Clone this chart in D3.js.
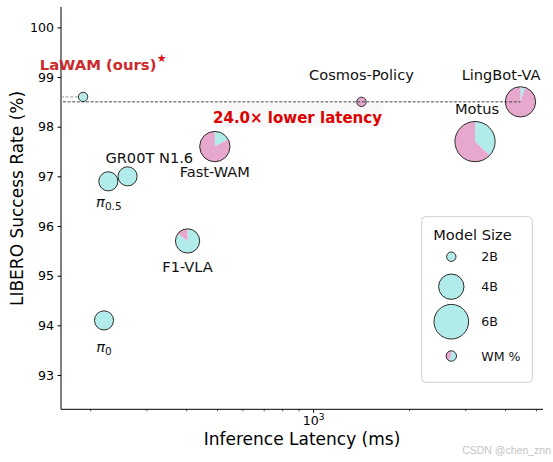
<!DOCTYPE html>
<html><head><meta charset="utf-8">
<script src="https://cdn.jsdelivr.net/npm/d3@7"></script>
<style>body{margin:0;background:#fff}svg{display:block}</style>
</head><body>
<svg id="c" width="553" height="462"></svg>
<script>
// ---- data ----
const models    = ["LaWAM (ours)", "Cosmos-Policy", "LingBot-VA", "Motus", "Fast-WAM", "GR00T N1.6", "π0.5", "F1-VLA", "π0"];
const latencyMs = [190, 1418, 4470, 3220, 492, 262, 228, 404, 221];
const successRate = [98.6, 98.5, 98.5, 97.7, 97.6, 97.0, 96.9, 95.7, 94.1];
const modelSizeB  = [2, 2, 5, 7.5, 5, 3, 3, 3.8, 3];
const wmFraction  = [0.05, 1.0, 0.95, 0.63, 0.83, 0, 0, 0.15, 0];
const yTicks = [93, 94, 95, 96, 97, 98, 99, 100];
const xMinorTicks = [200, 300, 400, 500, 600, 700, 800, 900, 2000, 3000, 4000, 5000];
const xMajorTicks = [1000];
const legendSizes = [2, 4, 6];
const legendSizeLabels = ["2B", "4B", "6B"];
const legendWM = 0.42;
const speedupText = "24.0× lower latency";

// ---- layout ----
const L = 61, R = 543, T = 7, B = 409.3;
const cyan = "#b2ecea", pink = "#e6a9cd";
const svg = d3.select("#c");
const x = d3.scaleLog().domain([162, 5260]).range([L, R]);
const y = d3.scaleLinear().domain([92.31, 100.41]).range([B, T]);
const area = d3.scaleLinear().domain([2, 6]).range([22, 300]);
const rad = s => Math.sqrt(area(s));

// axes
const yAxis = d3.axisLeft(y).tickValues(yTicks).tickSize(3.5).tickPadding(3.5).tickFormat(d3.format("d"));
const gy = svg.append("g").attr("transform", `translate(${L},0)`).call(yAxis);
gy.select(".domain").attr("d", `M0,${T}V${B}`).attr("stroke", "#000").attr("stroke-width", 1);
gy.selectAll("text").attr("font-family", "DejaVu Sans").attr("font-size", 12.6).attr("fill", "#000");

const xMinor = d3.axisBottom(x).tickValues(xMinorTicks).tickSize(2).tickFormat("");
const gxm = svg.append("g").attr("transform", `translate(0,${B})`).call(xMinor);
gxm.select(".domain").attr("d", `M${L},0H${R}`).attr("stroke", "#000");
gxm.selectAll("line").attr("stroke-width", 0.7);
const xMajor = d3.axisBottom(x).tickValues(xMajorTicks).tickSize(3.5).tickFormat("");
const gx = svg.append("g").attr("transform", `translate(0,${B})`).call(xMajor);
gx.select(".domain").remove();
gx.selectAll(".tick").append("text")
  .attr("y", 16).attr("fill", "#000").attr("font-family", "DejaVu Sans").attr("font-size", 12.6)
  .attr("text-anchor", "middle")
  .call(t => { t.append("tspan").text("10"); t.append("tspan").attr("dy", -5).attr("font-size", 9).text("3"); });

svg.append("text").attr("x", (L + R) / 2).attr("y", 445).attr("text-anchor", "middle")
  .attr("font-family", "DejaVu Sans").attr("font-size", 17).text("Inference Latency (ms)");
svg.append("text").attr("transform", "translate(23,198.5) rotate(-90)").attr("text-anchor", "middle")
  .attr("font-family", "DejaVu Sans").attr("font-size", 17).text("LIBERO Success Rate (%)");

// short gray dashed line to LaWAM
svg.append("line").attr("x1", L).attr("x2", x(latencyMs[0])).attr("y1", y(successRate[0])).attr("y2", y(successRate[0]))
  .attr("stroke", "#9a9a9a").attr("stroke-width", 1).attr("stroke-dasharray", "3,1.6");

// speedup label box
svg.append("rect").attr("x", 211.7).attr("y", 103).attr("width", 171.6).attr("height", 24)
  .attr("fill", "#f7f7f7").attr("opacity", 0.85);
svg.append("text").attr("x", 297.5).attr("y", 122.5).attr("text-anchor", "middle")
  .attr("font-family", "'Comic Sans MS', 'DejaVu Sans'").attr("font-weight", "bold").attr("font-size", 16.5)
  .attr("textLength", 169).attr("lengthAdjust", "spacingAndGlyphs")
  .attr("fill", "#dd0000").text(speedupText);

// bubbles as pies
const pie = d3.pie().sort(null).value(d => d);
function drawPie(g, cx, cy, r, wm) {
  const gg = g.append("g").attr("transform", `translate(${cx},${cy})`);
  const arcs = pie([1 - wm, wm]);
  const arc = d3.arc().innerRadius(0).outerRadius(r);
  gg.selectAll("path").data(arcs).join("path")
    .attr("d", arc).attr("fill", (d, i) => i === 0 ? cyan : pink).attr("stroke", "none");
  gg.append("circle").attr("r", r).attr("fill", "none").attr("stroke", "#2b2b2b").attr("stroke-width", 1);
}
const gb = svg.append("g");
models.forEach((m, i) => drawPie(gb, x(latencyMs[i]), y(successRate[i]), rad(modelSizeB[i]), wmFraction[i]));

// long dashed reference line (on top)
svg.append("line").attr("x1", L + 2).attr("x2", x(latencyMs[2])).attr("y1", y(98.5)).attr("y2", y(98.5))
  .attr("stroke", "#333").attr("stroke-width", 0.9).attr("stroke-dasharray", "3,1.6");

// labels
const labelOff = {
  "Cosmos-Policy": [0, -21.7], "LingBot-VA": [-19.4, -21.7], "Motus": [2, -27.7],
  "Fast-WAM": [0, 30.4], "GR00T N1.6": [21.7, -13.3], "π0.5": [0.5, 25.7],
  "F1-VLA": [0, 30.7], "π0": [0, 31.7]
};
models.forEach((m, i) => {
  if (i === 0) return;
  const [dx, dy] = labelOff[m];
  const t = svg.append("text").attr("x", x(latencyMs[i]) + dx).attr("y", y(successRate[i]) + dy)
    .attr("text-anchor", "middle").attr("font-family", "DejaVu Sans").attr("font-size", 14.6).attr("fill", "#111");
  if (m.startsWith("π")) {
    t.append("tspan").attr("font-style", "italic").text("π");
    t.append("tspan").attr("font-size", 10.5).attr("dy", 3).text(m.slice(1));
  } else t.text(m);
});
// LaWAM label
svg.append("text").attr("x", x(latencyMs[0]) + 15).attr("y", 70).attr("text-anchor", "middle")
  .attr("font-family", "DejaVu Sans").attr("font-weight", "bold").attr("font-size", 14.8)
  .attr("fill", "#cc2a2a").text(models[0]);
svg.append("text").attr("x", 161.7).attr("y", 62).attr("text-anchor", "middle")
  .attr("font-family", "DejaVu Sans").attr("font-size", 11).attr("fill", "#e01010").text("★");

// legend
const lg = svg.append("g");
lg.append("rect").attr("x", 421.7).attr("y", 216.7).attr("width", 110.6).attr("height", 165.6).attr("rx", 4)
  .attr("fill", "#fff").attr("fill-opacity", 0.8).attr("stroke", "#d0d0d0").attr("stroke-width", 1);
lg.append("text").attr("x", 472.5).attr("y", 239.5).attr("text-anchor", "middle")
  .attr("font-family", "DejaVu Sans").attr("font-size", 14.6).attr("fill", "#111").text("Model Size");
const legY = [256.7, 286.7, 321.7];
legendSizes.forEach((s, i) => {
  drawPie(lg, 451.3, legY[i], rad(s), 0);
  lg.append("text").attr("x", 481.3).attr("y", legY[i] + 4.5).attr("font-family", "DejaVu Sans")
    .attr("font-size", 12.6).attr("fill", "#111").text(legendSizeLabels[i]);
});
drawPie(lg, 451.3, 356, 5.2, legendWM);
lg.append("text").attr("x", 481.3).attr("y", 360.5).attr("font-family", "DejaVu Sans")
  .attr("font-size", 12.6).attr("fill", "#111").text("WM %");

// watermark
svg.append("text").attr("x", 551).attr("y", 454).attr("text-anchor", "end")
  .attr("font-family", "Liberation Sans").attr("font-size", 10.5).attr("fill", "#c4c4c4").text("CSDN @chen_znn");
</script>
</body></html>
